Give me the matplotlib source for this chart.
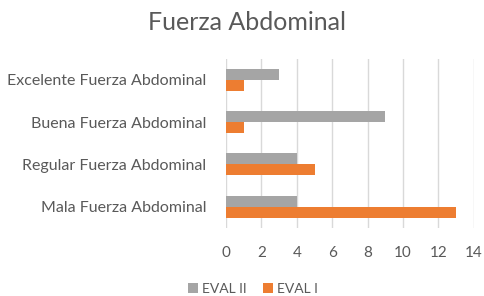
import matplotlib
matplotlib.use("Agg")
import matplotlib.pyplot as plt
import numpy as np

categories = ["Mala Fuerza Abdominal", "Regular Fuerza Abdominal",
              "Buena Fuerza Abdominal", "Excelente Fuerza Abdominal"]
eval_ii = [4, 4, 9, 3]
eval_i = [13, 5, 1, 1]
xticks = [0, 2, 4, 6, 8, 10, 12, 14]

plt.rcParams['font.family'] = ['Lato', 'DejaVu Sans']
txt = '#595959'

fig = plt.figure(figsize=(4.85, 2.96), dpi=100)
ax = fig.add_axes([0.466, 0.231, 0.511, 0.570])

y = np.arange(len(categories))
h = 0.26
ax.barh(y + h / 2, eval_ii, height=h, color='#A5A5A5', label='EVAL II', zorder=3)
ax.barh(y - h / 2, eval_i, height=h, color='#ED7D31', label='EVAL I', zorder=3)

ax.set_ylim(-0.5, 3.5)
ax.set_xlim(0, 14)
ax.set_xticks(xticks)
ax.set_yticks(y)
ax.set_yticklabels(categories)
ax.grid(axis='x', color='#D9D9D9', linewidth=1, zorder=0)
for s in ax.spines.values():
    s.set_visible(False)
ax.tick_params(axis='y', length=0, pad=14, labelsize=11.5, labelcolor=txt)
ax.tick_params(axis='x', length=0, pad=13.5, labelsize=11, labelcolor=txt)

fig.suptitle('Fuerza Abdominal', x=0.51, y=0.962, fontsize=18, color=txt)
fig.legend(loc='center', bbox_to_anchor=(0.522, 0.024), ncol=2, frameon=False,
           fontsize=10, labelcolor=txt, handlelength=0.7, handleheight=0.7,
           handletextpad=0.3, columnspacing=1.2)

fig.savefig('out.png', dpi=100)
